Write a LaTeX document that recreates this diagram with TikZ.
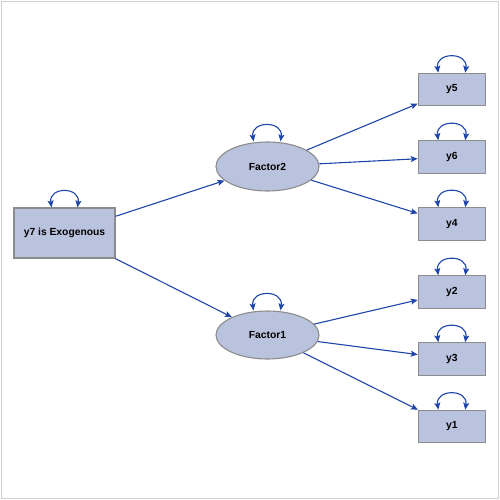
\documentclass[tikz,border=0pt]{standalone}
\usepackage{fontspec}
\setmainfont{Liberation Sans}
\usetikzlibrary{shapes.geometric,arrows.meta}
\definecolor{nodefill}{HTML}{BAC3DE}
\definecolor{nodeline}{HTML}{8C8C8C}
\definecolor{pathblue}{HTML}{1E46AA}
\definecolor{framegray}{HTML}{D0D0D0}
\tikzset{
  boxnode/.style={draw=nodeline, fill=nodefill, line width=1.1pt, rectangle, inner sep=0pt, font=\bfseries\fontsize{10.3}{12}\selectfont},
  ellnode/.style={draw=nodeline, fill=nodefill, line width=1.1pt, ellipse, inner sep=0pt, minimum width=103pt, minimum height=49pt, font=\bfseries\fontsize{10.3}{12}\selectfont},
  ybox/.style={boxnode, minimum width=67pt, minimum height=32.5pt},
  pathline/.style={draw=pathblue, line width=1.1pt, -{Stealth[length=7pt,width=6pt,inset=1.5pt]}},
  arcline/.style={draw=pathblue, line width=1.1pt, {Stealth[length=7pt,width=6pt,inset=1.5pt]}-{Stealth[length=7pt,width=6pt,inset=1.5pt]}}
}
\newcommand{\selfarc}[3]{%
  \draw[arcline] ([xshift=#2pt]#1.north) .. controls +(-3,-21) and +(3,-21) .. ([xshift=#3pt]#1.north);}
\begin{document}
\begin{tikzpicture}[x=1pt,y=-1pt]
\useasboundingbox (0,0) rectangle (500,500);
\draw[framegray, line width=1pt] (1.5,1.5) rectangle (498.5,498.5);
\node[boxnode, minimum width=101pt, minimum height=50pt] (ex) at (64.5,233) {y7 is Exogenous};
\node[ellnode] (f2) at (267.5,166.5) {Factor2};
\node[ellnode, minimum height=48pt] (f1) at (267.5,335) {Factor1};
\node[ybox] (y5) at (451.75,89.5) {y5};
\node[ybox] (y6) at (451.75,157) {y6};
\node[ybox] (y4) at (451.75,224) {y4};
\node[ybox] (y2) at (451.75,292) {y2};
\node[ybox] (y3) at (451.75,359) {y3};
\node[ybox] (y1) at (451.75,426.5) {y1};
\draw[pathline] (ex) -- (f2);
\draw[pathline] (ex) -- (f1);
\draw[pathline] (f2) -- (y5);
\draw[pathline] (f2) -- (y6);
\draw[pathline] (f2) -- (y4);
\draw[pathline] (f1) -- (y2);
\draw[pathline] (f1) -- (y3);
\draw[pathline] (f1) -- (y1);
\selfarc{ex}{-13}{13}
\selfarc{f2}{-14}{13}
\selfarc{f1}{-14}{13}
\selfarc{y5}{-13.5}{13.5}
\selfarc{y6}{-13.5}{13.5}
\selfarc{y4}{-13.5}{13.5}
\selfarc{y2}{-13.5}{13.5}
\selfarc{y3}{-13.5}{13.5}
\selfarc{y1}{-13.5}{13.5}
\end{tikzpicture}
\end{document}
